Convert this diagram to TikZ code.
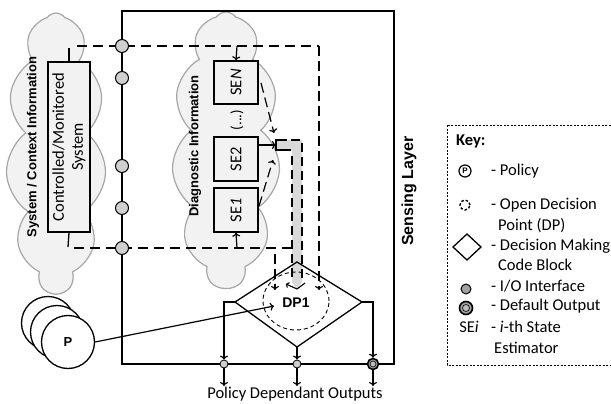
\documentclass[tikz,border=0pt]{standalone}
\usepackage{fontspec}
\setmainfont{Carlito}
\newfontfamily\arial{Liberation Sans}
\usetikzlibrary{shapes.symbols,shapes.geometric,arrows.meta}
\definecolor{cloudfill}{HTML}{F2F2F2}
\definecolor{cloudline}{HTML}{A6A6A6}
\definecolor{iogray}{HTML}{D0D0D0}
\definecolor{keygray}{HTML}{A0A0A0}
\definecolor{barfill}{HTML}{D9D9D9}
\begin{document}
\begin{tikzpicture}[x=1pt,y=-1pt,
  ln/.style={line width=1.3pt},
  dsh/.style={line width=1.3pt,dash pattern=on 10pt off 6pt},
  arr/.style={line width=1.2pt,-{To[length=4pt,width=8pt]}},
  dsharr/.style={line width=1.2pt,dash pattern=on 10pt off 5pt,-{To[length=4pt,width=8pt]}},
  cloudy/.style={cloud,cloud puffs=11,cloud puff arc=110,cloud ignores aspect,draw=cloudline,fill=cloudfill,line width=1.2pt,inner sep=0},
  io/.style={circle,draw,fill=iogray,minimum size=13pt,inner sep=0,line width=1pt},
  smallio/.style={circle,draw,fill=iogray,minimum size=8pt,inner sep=0,line width=0.8pt},
  sebox/.style={draw,fill=cloudfill,line width=1.3pt,minimum width=44pt,minimum height=43pt,inner sep=0},
  lbl/.style={font=\arial\bfseries\fontsize{13}{15}\selectfont,rotate=90},
  keytxt/.style={anchor=west,font=\fontsize{16.5}{19}\selectfont,inner sep=0},
  pcirc/.style={circle,draw,fill=white,line width=1.3pt,minimum size=53pt,inner sep=0}]
\useasboundingbox (0,0) rectangle (611,404);

% clouds
\node[cloudy,minimum width=100pt,minimum height=280pt] (cl1) at (56,153) {};
\node[cloudy,minimum width=108pt,minimum height=276pt] (cl2) at (226,150) {};
\node[lbl] (syslbl) at (33,147) {System / Context Information};
\node[lbl] (diaglbl) at (195,146) {Diagnostic Information};

% main box
\draw[ln,line width=1.5pt] (122,11) rectangle (394,364);
\node[font=\arial\bfseries\fontsize{16}{18}\selectfont,rotate=90] (sens) at (409,191) {Sensing Layer};

% controlled system
\node[draw,fill=cloudfill,line width=1.3pt,minimum width=42pt,minimum height=170pt,inner sep=0] (sys) at (69,147) {};
\node[rotate=90,align=center,font=\fontsize{16.5}{19}\selectfont] (systxt) at (69,147) {Controlled/Monitored\\System};

% SE boxes
\node[sebox] (sen) at (236,82.5) {};
\node[rotate=90,font=\fontsize{16.5}{18}\selectfont] at (sen) {SE\textit{N}};
\node[sebox,minimum height=44pt] (se2) at (236,159) {};
\node[rotate=90,font=\fontsize{16.5}{18}\selectfont] at (se2) {SE2};
\node[sebox,minimum height=44pt] (se1) at (236,210) {};
\node[rotate=90,font=\fontsize{16.5}{18}\selectfont] at (se1) {SE\textit{1}};
\node[rotate=90,font=\fontsize{15}{18}\selectfont] (dots) at (237,120) {(...)};

% coordinates
\coordinate (tb) at (319,46);
\coordinate (tc) at (319,290);
\coordinate (bb) at (292,248);
\coordinate (bd) at (275,254);
\coordinate (be) at (275,290);
\coordinate (sent) at (237,46);
\coordinate (se1b) at (237,248);

% dashed signal lines
\draw[ln] (sys.north) -- (69,48);
\draw[dsh] (77,46) -- (tb);
\draw[dsharr] (tb) -- (tc);
\draw[ln] (sys.south) -- (68,247);
\draw[dsh] (74,248) -- (bb);
\draw[dsharr] (bd) -- (be);
\draw[arr] (sent) -- (sen.north);
\draw[arr] (se1b) -- (se1.south);

% gray bar
\fill[barfill] (276,140) -- (302,140) -- (302,282) -- (297,289) -- (292,282) -- (292,150) -- (276,150) -- cycle;
\draw[ln] (287,140) -- (276,140) -- (276,150) -- (291,150);
\draw[dsh,dash pattern=on 9pt off 5pt] (291,140) -- (302,140) -- (302,280);
\draw[dsh,dash pattern=on 9pt off 5pt] (292,156) -- (292,280);
\draw[line width=1.1pt,-{To[length=3pt,width=6pt]}] (297,289) -- (286,284);
\draw[line width=1.1pt] (297,289) -- (305,283);

% SE arrows to bar
\draw[arr] (se2.east |- 0,145) -- (276,145);
\draw[dsharr] (261,83) -- (274,133);
\draw[dsharr] (259,206) -- (273,160);

% diamond
\coordinate (dl) at (235,302);
\coordinate (dt) at (297,262);
\coordinate (dr) at (362,302);
\coordinate (db) at (297,347);
\draw[ln,line join=miter] (dl) -- (dt) -- (dr) -- (db) -- cycle;
\node[ellipse,draw,dash pattern=on 4pt off 3pt,line width=0.9pt,minimum width=66pt,minimum height=58pt,inner sep=0] (dp) at (296,301) {};
\node[font=\arial\bfseries\fontsize{14}{16}\selectfont] (dptxt) at (296,303) {DP1};

% I/O circles on left line
\foreach \yy/\nn in {46/i1,78/i2,166/i3,208/i4,248/i5} \node[io] (\nn) at (122,\yy) {};

% outputs
\node[smallio] (o1) at (224,364) {};
\node[smallio] (o2) at (297,364) {};
\node[circle,draw,line width=1.6pt,fill=keygray,minimum size=11pt,inner sep=0] (o3) at (373,364) {};
\node[circle,draw,line width=0.6pt,fill=keygray!70,minimum size=6pt,inner sep=0] at (o3) {};
\draw[arr] (dl) -- (224,302) -- (o1.north);
\draw[arr] (db) -- (o2.north);
\draw[arr] (dr) -- (373,302) -- (o3.north);
\coordinate (e1) at (224,386);
\coordinate (e2) at (297,386);
\coordinate (e3) at (373,386);
\draw[arr] (o1.south) -- (e1);
\draw[arr] (o2.south) -- (e2);
\draw[arr] (o3.south) -- (e3);
\node[font=\fontsize{16.5}{19}\selectfont] (outs) at (295,394) {Policy Dependant Outputs};

% policy circles
\node[pcirc] (p1) at (48,323) {};
\node[pcirc] (p2) at (57,332) {};
\node[pcirc] (p3) at (68,342) {};
\node[font=\arial\bfseries\fontsize{13}{15}\selectfont] at (p3) {P};
\coordinate (pt) at (274,306);
\draw[arr] (p3.east) -- (pt);

% key
\draw[line width=0.6pt,dash pattern=on 2pt off 1.5pt] (447,125) rectangle (616,365);
\node[keytxt,font=\bfseries\fontsize{16.5}{19}\selectfont] (k0) at (456,141) {Key:};
\node[circle,draw,line width=1.2pt,minimum size=12pt,inner sep=0] (kp) at (465,171) {};
\node[font=\arial\bfseries\fontsize{8}{9}\selectfont] at (kp) {P};
\node[keytxt] (k1) at (491,171) {- Policy};
\node[circle,draw,dash pattern=on 2.5pt off 2pt,line width=1.4pt,minimum size=10pt,inner sep=0] (kdp) at (465,205) {};
\node[keytxt] (k2) at (491,205) {- Open Decision};
\node[keytxt] (k2b) at (498,226) {Point (DP)};
\draw[line width=1.3pt,line join=miter] (453,247) -- (467,234) -- (481,247) -- (467,260) -- cycle;
\node[keytxt] (k3) at (491,246) {- Decision Making};
\node[keytxt] (k3b) at (498,265) {Code Block};
\node[circle,draw,fill=keygray,line width=1pt,minimum size=10pt,inner sep=0] (kio) at (466,289) {};
\node[keytxt] (k4) at (491,286) {- I/O Interface};
\node[circle,draw,line width=1.6pt,fill=keygray,minimum size=13pt,inner sep=0] (kdo) at (466,308) {};
\node[circle,draw,line width=0.6pt,fill=keygray!70,minimum size=7pt,inner sep=0] at (kdo) {};
\node[keytxt] (k5) at (491,306) {- Default Output};
\node[font=\fontsize{16.5}{19}\selectfont,inner sep=0] (kse) at (469,327) {SE\textit{i}};
\node[keytxt] (k6) at (491,327) {- \textit{i}-th State};
\node[keytxt] (k6b) at (494,348) {Estimator};
\end{tikzpicture}
\end{document}
